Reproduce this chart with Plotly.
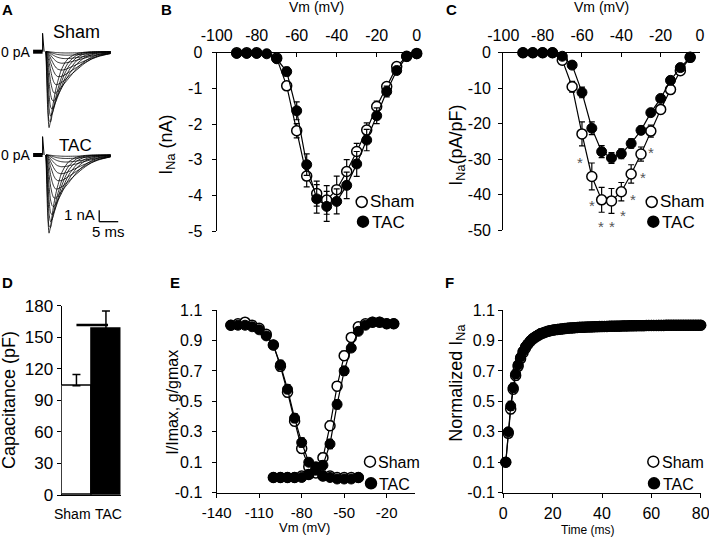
import plotly.graph_objects as go

W, H = 709, 537
FONT = "Liberation Sans, Arial, sans-serif"


def px(x):
    return x / W


def py(y):
    return 1 - y / H


# ---------------- Panel A : representative traces (ms, nA) ----------------
trace_t = [0, 0.4, 0.8, 1.2, 1.6, 2, 2.5, 3, 4, 5, 6, 8, 10, 12, 14, 17]
sham_traces = [
    [0, -4.6, -6.6, -6.0, -5.1, -4.3, -3.4, -2.7, -1.6, -0.95, -0.55, -0.18, -0.05, 0, 0, 0],
    [0, -3.6, -6.0, -6.1, -5.5, -4.9, -4.1, -3.4, -2.3, -1.45, -0.9, -0.32, -0.1, -0.03, 0, 0],
    [0, -2.5, -4.9, -5.6, -5.4, -5.0, -4.4, -3.8, -2.7, -1.85, -1.25, -0.52, -0.2, -0.07, -0.02, 0],
    [0, -1.6, -3.7, -4.8, -5.0, -4.8, -4.4, -4.0, -3.1, -2.3, -1.65, -0.8, -0.37, -0.16, -0.06, 0],
    [0, -1.0, -2.6, -3.7, -4.2, -4.3, -4.1, -3.85, -3.25, -2.6, -2.0, -1.1, -0.55, -0.26, -0.11, -0.02],
    [0, -0.55, -1.6, -2.6, -3.2, -3.55, -3.6, -3.45, -3.1, -2.7, -2.3, -1.5, -0.88, -0.48, -0.22, -0.06],
    [0, -0.3, -0.9, -1.6, -2.2, -2.6, -2.85, -2.85, -2.7, -2.45, -2.15, -1.6, -1.05, -0.63, -0.35, -0.12],
    [0, -0.15, -0.5, -0.95, -1.35, -1.7, -2.0, -2.15, -2.15, -2.0, -1.8, -1.38, -0.98, -0.64, -0.4, -0.16],
    [0, -0.08, -0.28, -0.55, -0.82, -1.08, -1.33, -1.5, -1.6, -1.55, -1.42, -1.12, -0.82, -0.55, -0.35, -0.16],
    [0, -0.04, -0.14, -0.3, -0.47, -0.62, -0.78, -0.9, -1.0, -0.98, -0.92, -0.75, -0.57, -0.4, -0.27, -0.13],
    [0, -0.02, -0.07, -0.15, -0.24, -0.32, -0.41, -0.48, -0.57, -0.6, -0.59, -0.52, -0.42, -0.32, -0.22, -0.11],
    [0, 0, -0.03, -0.07, -0.11, -0.15, -0.2, -0.24, -0.28, -0.3, -0.3, -0.27, -0.22, -0.17, -0.12, -0.07],
    [0, 0, -0.01, -0.02, -0.04, -0.05, -0.07, -0.08, -0.1, -0.11, -0.11, -0.1, -0.09, -0.07, -0.05, -0.03],
]
tac_traces = [
    [0, -4.8, -6.8, -6.2, -5.3, -4.4, -3.5, -2.8, -1.65, -1.0, -0.58, -0.19, -0.05, 0, 0, 0],
    [0, -3.7, -6.2, -6.3, -5.7, -5.0, -4.2, -3.5, -2.35, -1.5, -0.95, -0.34, -0.11, -0.03, 0, 0],
    [0, -2.6, -5.1, -5.8, -5.6, -5.2, -4.6, -3.95, -2.8, -1.95, -1.3, -0.55, -0.21, -0.07, -0.02, 0],
    [0, -1.7, -3.9, -5.0, -5.2, -5.0, -4.6, -4.15, -3.2, -2.4, -1.72, -0.85, -0.4, -0.17, -0.06, 0],
    [0, -1.05, -2.7, -3.9, -4.4, -4.5, -4.3, -4.0, -3.4, -2.7, -2.1, -1.15, -0.58, -0.28, -0.12, -0.02],
    [0, -0.6, -1.7, -2.7, -3.35, -3.7, -3.75, -3.6, -3.2, -2.8, -2.4, -1.55, -0.92, -0.5, -0.23, -0.06],
    [0, -0.32, -0.95, -1.7, -2.3, -2.7, -2.95, -2.95, -2.8, -2.55, -2.25, -1.65, -1.1, -0.66, -0.37, -0.12],
    [0, -0.16, -0.52, -1.0, -1.4, -1.78, -2.08, -2.22, -2.22, -2.07, -1.86, -1.42, -1.0, -0.66, -0.41, -0.16],
    [0, -0.08, -0.29, -0.57, -0.85, -1.1, -1.36, -1.53, -1.63, -1.57, -1.44, -1.14, -0.83, -0.56, -0.36, -0.16],
    [0, -0.04, -0.15, -0.31, -0.48, -0.64, -0.8, -0.92, -1.02, -1.0, -0.94, -0.77, -0.58, -0.41, -0.28, -0.13],
    [0, -0.02, -0.07, -0.15, -0.25, -0.33, -0.42, -0.49, -0.58, -0.61, -0.6, -0.53, -0.43, -0.33, -0.22, -0.11],
    [0, 0, -0.03, -0.07, -0.11, -0.15, -0.2, -0.24, -0.28, -0.3, -0.3, -0.27, -0.22, -0.17, -0.12, -0.07],
    [0, 0, -0.01, -0.02, -0.04, -0.05, -0.07, -0.08, -0.1, -0.11, -0.11, -0.1, -0.09, -0.07, -0.05, -0.03],
]
hold_t = [-3.4, -0.9]
hold_i = [0, 0]
spike_t = [-0.9, -0.9, -0.5]
spike_i = [0, 1.6, 0]

# ---------------- Panel B : I-V (nA) ----------------
vm_b = [-90, -85, -80, -75, -70, -65, -60, -55, -50, -45, -40, -35, -30, -25, -20, -15, -10, -5, 0]
ina_sham = [0, 0, 0, 0.01, -0.15, -0.93, -2.19, -3.46, -3.95, -4.13, -3.84, -3.33, -2.77, -2.17, -1.51, -0.95, -0.39, -0.1, -0.02]
ina_sham_err = [0, 0, 0, 0, 0.03, 0.1, 0.2, 0.3, 0.35, 0.4, 0.38, 0.33, 0.23, 0.2, 0.15, 0.1, 0.06, 0.03, 0.01]
ina_tac = [-0.02, -0.02, -0.02, -0.03, -0.17, -0.53, -1.63, -3.14, -4.1, -4.31, -4.17, -3.72, -3.12, -2.45, -1.77, -1.09, -0.5, -0.11, -0.03]
ina_tac_err = [0, 0, 0, 0, 0.04, 0.12, 0.25, 0.3, 0.4, 0.42, 0.35, 0.37, 0.35, 0.3, 0.22, 0.15, 0.08, 0.03, 0.01]

# ---------------- Panel C : density (pA/pF) ----------------
vm_c = [-90, -85, -80, -75, -70, -65, -60, -55, -50, -45, -40, -35, -30, -25, -20, -15, -10, -5]
dens_sham = [0, 0, 0, 0, -2.1, -9.6, -22.9, -34.9, -41.5, -41.8, -39.2, -34.2, -28.6, -22.1, -16.0, -10.4, -5.1, -1.3]
dens_sham_err = [0, 0, 0, 0, 0.5, 1.5, 3.4, 3.8, 3.5, 3.5, 2.6, 2.6, 2.0, 1.7, 1.2, 1.0, 0.6, 0.3]
dens_tac = [0, 0, 0, 0, -1.0, -3.5, -11.2, -21.3, -27.9, -29.7, -28.5, -25.6, -21.9, -16.9, -12.9, -7.8, -4.2, -1.3]
dens_tac_err = [0, 0, 0, 0, 0.4, 0.6, 1.5, 1.8, 1.7, 1.5, 1.4, 1.3, 1.1, 0.9, 0.8, 0.6, 0.4, 0.2]
star_x = [-61.0, -55.1, -50.1, -44.9, -39.0, -34.2, -28.8, -25.1]
star_y = [-29.7, -42.0, -47.9, -47.9, -44.8, -40.4, -34.0, -26.9]

# ---------------- Panel D : capacitance ----------------
groups = ["Sham", "TAC"]
cap_mean = [104, 158]
cap_err = [10.5, 17]

# ---------------- Panel E : steady-state inactivation / activation ----------------
inact_v = [-130, -125, -120, -115, -110, -105, -100, -95, -90, -85, -80, -75, -70, -65, -60, -55, -50, -45, -40]
inact_sham = [1.00, 1.01, 1.02, 1.00, 0.98, 0.94, 0.87, 0.73, 0.56, 0.37, 0.19, 0.07, 0.03, 0.01, 0.01, 0.00, 0.00, 0.00, 0.00]
inact_tac = [1.00, 1.00, 1.00, 0.99, 0.97, 0.93, 0.87, 0.74, 0.58, 0.39, 0.23, 0.10, 0.05, 0.01, 0.00, -0.01, -0.01, -0.01, 0.00]
act_v = [-100, -95, -90, -85, -80, -75, -70, -65, -60, -55, -50, -45, -40, -35, -30, -25, -20, -15]
act_sham = [0.00, 0.00, 0.00, 0.00, 0.01, 0.02, 0.05, 0.13, 0.34, 0.60, 0.80, 0.92, 0.99, 1.01, 1.02, 1.02, 1.01, 1.01]
act_tac = [0.00, 0.00, 0.00, 0.00, 0.00, 0.02, 0.07, 0.08, 0.22, 0.48, 0.70, 0.85, 0.96, 1.00, 1.02, 1.02, 1.01, 1.01]
e_err = [0, 0, 0, 0, 0.01, 0.01, 0.02, 0.03, 0.03, 0.03, 0.03, 0.02, 0.02, 0.01, 0.01, 0, 0, 0, 0]

# ---------------- Panel F : recovery from inactivation ----------------
rec_t = [1, 2, 3, 4, 5, 6, 7, 8, 9, 10, 11, 12, 13, 14, 15, 16, 17, 18, 19, 20,
         21, 22, 23, 24, 25, 26, 27, 28, 29, 30, 31, 32, 33, 34, 35, 36, 37, 38, 39, 40,
         41, 42, 43, 44, 45, 46, 47, 48, 49, 50, 51, 52, 53, 54, 55, 56, 57, 58, 59, 60,
         61, 62, 63, 64, 65, 66, 67, 68, 69, 70, 71, 72, 73, 74, 75, 76, 77, 78, 79, 80]
rec_sham = [0.10, 0.29, 0.45, 0.58, 0.67, 0.73, 0.78, 0.82, 0.85, 0.875,
            0.895, 0.91, 0.922, 0.932, 0.942, 0.948, 0.954, 0.96, 0.964, 0.967,
            0.97, 0.972, 0.974, 0.976, 0.978, 0.98, 0.981, 0.982, 0.984, 0.985,
            0.986, 0.986, 0.987, 0.988, 0.989, 0.989, 0.99, 0.99, 0.991, 0.991,
            0.992, 0.992, 0.993, 0.993, 0.994, 0.994, 0.994, 0.995, 0.995, 0.995,
            0.996, 0.996, 0.996, 0.997, 0.997, 0.997, 0.997, 0.998, 0.998, 0.998,
            0.998, 0.999, 0.999, 0.999, 0.999, 1.0, 1.0, 1.0, 1.0, 1.0,
            1.0, 1.0, 1.0, 1.0, 1.0, 1.0, 1.0, 1.0, 1.0, 1.0]
rec_tac = [0.10, 0.30, 0.47, 0.59, 0.68, 0.74, 0.79, 0.83, 0.86, 0.88,
           0.90, 0.915, 0.925, 0.935, 0.945, 0.95, 0.955, 0.96, 0.965, 0.968,
           0.97, 0.973, 0.975, 0.977, 0.979, 0.98, 0.982, 0.983, 0.984, 0.985,
           0.986, 0.987, 0.988, 0.988, 0.989, 0.99, 0.99, 0.991, 0.991, 0.992,
           0.992, 0.993, 0.993, 0.994, 0.994, 0.995, 0.995, 0.995, 0.996, 0.996,
           0.996, 0.997, 0.997, 0.997, 0.998, 0.998, 0.998, 0.998, 0.999, 0.999,
           0.999, 0.999, 1.0, 1.0, 1.0, 1.0, 1.0, 1.0, 1.0, 1.0,
           1.0, 1.0, 1.0, 1.0, 1.0, 1.0, 1.0, 1.0, 1.0, 1.0]
rec_err_early = [0.01, 0.02, 0.03, 0.03, 0.03, 0.02, 0.02, 0.02, 0.02, 0.01]

fig = go.Figure()

OPEN = dict(symbol="circle", size=10, color="white", line=dict(color="black", width=1.5))
FILLED = dict(symbol="circle", size=10, color="black", line=dict(color="black", width=1))
LINE = dict(color="black", width=1.2)


def err(arr):
    return dict(type="data", array=arr, visible=True, color="black", thickness=1.2, width=3)


# Panel A traces
for axes, traces in (("", sham_traces), ("2", tac_traces)):
    xa, ya = "x" + axes, "y" + axes
    for tr in traces:
        fig.add_trace(go.Scatter(x=trace_t, y=tr, mode="lines", line=dict(color="black", width=0.8, shape="spline", smoothing=0.6),
                                 xaxis=xa, yaxis=ya, showlegend=False, hoverinfo="skip"))
    fig.add_trace(go.Scatter(x=hold_t, y=hold_i, mode="lines", line=dict(color="black", width=4),
                             xaxis=xa, yaxis=ya, showlegend=False))
    fig.add_trace(go.Scatter(x=spike_t, y=spike_i, mode="lines", line=dict(color="black", width=1),
                             xaxis=xa, yaxis=ya, showlegend=False))

# Panel B
fig.add_trace(go.Scatter(x=vm_b, y=ina_sham, mode="lines+markers", marker=OPEN, line=LINE, error_y=err(ina_sham_err),
                         xaxis="x3", yaxis="y3", showlegend=False, cliponaxis=False))
fig.add_trace(go.Scatter(x=vm_b, y=ina_tac, mode="lines+markers", marker=FILLED, line=LINE, error_y=err(ina_tac_err),
                         xaxis="x3", yaxis="y3", showlegend=False, cliponaxis=False))
# Panel C
fig.add_trace(go.Scatter(x=vm_c, y=dens_sham, mode="lines+markers", marker=OPEN, line=LINE, error_y=err(dens_sham_err),
                         xaxis="x4", yaxis="y4", showlegend=False, cliponaxis=False))
fig.add_trace(go.Scatter(x=vm_c, y=dens_tac, mode="lines+markers", marker=FILLED, line=LINE, error_y=err(dens_tac_err),
                         xaxis="x4", yaxis="y4", showlegend=False, cliponaxis=False))
# Panel D
fig.add_trace(go.Bar(x=groups, y=cap_mean, marker=dict(color=["white", "black"], line=dict(color="black", width=1.5)),
                     error_y=dict(type="data", array=cap_err, arrayminus=[0, 0], symmetric=False, color="black", thickness=1.5, width=4),
                     xaxis="x5", yaxis="y5", showlegend=False, width=1.0))
# Panel E
for xv, ys, mk in ((inact_v, inact_sham, OPEN), (act_v, act_sham, OPEN), (inact_v, inact_tac, FILLED), (act_v, act_tac, FILLED)):
    fig.add_trace(go.Scatter(x=xv, y=ys, mode="lines+markers", marker=mk, line=LINE, error_y=err(e_err[:len(ys)]),
                             xaxis="x6", yaxis="y6", showlegend=False, cliponaxis=False))
# Panel F
rec_err = rec_err_early + [0] * (len(rec_t) - len(rec_err_early))
fig.add_trace(go.Scatter(x=rec_t, y=rec_sham, mode="lines+markers", marker=OPEN, line=LINE, error_y=err(rec_err),
                         xaxis="x7", yaxis="y7", showlegend=False, cliponaxis=False))
fig.add_trace(go.Scatter(x=rec_t, y=rec_tac, mode="lines+markers", marker=FILLED, line=LINE, error_y=err(rec_err),
                         xaxis="x7", yaxis="y7", showlegend=False, cliponaxis=False))

AX = dict(showgrid=False, zeroline=False, showline=True, linecolor="black", linewidth=1.3,
          ticks="outside", ticklen=4, tickwidth=1.3, tickcolor="black", layer="below traces",
          automargin=False, tickangle=0, ticklabeloverflow="allow",
          tickfont=dict(family=FONT, size=16, color="black"))
HID = dict(visible=False, showgrid=False, zeroline=False, automargin=False)

b_xt = [-100, -80, -60, -40, -20, 0]
b_yt = [0, -1, -2, -3, -4, -5]
c_yt = [0, -10, -20, -30, -40, -50]
d_yt = [0, 30, 60, 90, 120, 150, 180]
e_xt = [-140, -110, -80, -50, -20]
e_yt = [-0.1, 0.1, 0.3, 0.5, 0.7, 0.9, 1.1]
f_xt = [0, 20, 40, 60, 80]


def lab(vals, fmt="{}"):
    return [fmt.format(v) for v in vals]


fig.update_layout(
    width=W, height=H, margin=dict(l=0, r=0, t=0, b=0, autoexpand=False),
    paper_bgcolor="white", plot_bgcolor="rgba(0,0,0,0)",
    font=dict(family=FONT, color="black"),
    bargap=0,
    xaxis=dict(HID, domain=[px(30), px(120)], range=[-4.21, 19.47], anchor="y"),
    yaxis=dict(HID, domain=[py(135), py(25)], range=[-7.24, 2.32], anchor="x"),
    xaxis2=dict(HID, domain=[px(30), px(120)], range=[-4.21, 19.47], anchor="y2"),
    yaxis2=dict(HID, domain=[py(238), py(128)], range=[-7.22, 2.35], anchor="x2"),
    xaxis3=dict(AX, domain=[px(216.7), px(416.7)], range=[-100, 0], anchor="y3", side="top", ticks="inside",
                tickvals=b_xt, ticktext=lab(b_xt), ticklabelstandoff=4),
    yaxis3=dict(AX, domain=[py(231), py(52.7)], range=[-5, 0], anchor="x3",
                tickvals=b_yt, ticktext=lab(b_yt), ticklabelstandoff=6),
    xaxis4=dict(AX, domain=[px(503.3), px(700)], range=[-100, 0], anchor="y4", side="top", ticks="inside",
                tickvals=b_xt, ticktext=lab(b_xt), ticklabelstandoff=4),
    yaxis4=dict(AX, domain=[py(230), py(52.7)], range=[-50, 0], anchor="x4",
                tickvals=c_yt, ticktext=lab(c_yt), ticklabelstandoff=4),
    xaxis5=dict(AX, domain=[px(61.7), px(120.7)], range=[-0.5, 1.5], anchor="y5", ticks="",
                showticklabels=False),
    yaxis5=dict(AX, domain=[py(495), py(305.7)], range=[0, 180], anchor="x5",
                tickvals=d_yt, ticktext=lab(d_yt), tickfont=dict(family=FONT, size=17, color="black")),
    xaxis6=dict(AX, domain=[px(216.7), px(415)], range=[-140, 0], anchor="y6",
                tickvals=e_xt, ticktext=lab(e_xt), ticklabelstandoff=2, tickfont=dict(family=FONT, size=15, color="black")),
    yaxis6=dict(AX, domain=[py(492.7), py(310)], range=[-0.1, 1.1], anchor="x6",
                tickvals=e_yt, ticktext=lab(e_yt, "{:.1f}"), ticklabelstandoff=6),
    xaxis7=dict(AX, domain=[px(503.3), px(700.7)], range=[0, 80], anchor="y7",
                tickvals=f_xt, ticktext=lab(f_xt), ticklabelstandoff=2),
    yaxis7=dict(AX, domain=[py(492.7), py(310)], range=[-0.1, 1.1], anchor="x7",
                tickvals=e_yt, ticktext=lab(e_yt, "{:.1f}")),
)

ann = []


def text(x, y, s, size, xanchor="center", bold=False, angle=0, color="black"):
    if bold:
        s = "<b>" + s + "</b>"
    ann.append(dict(x=px(x), y=py(y), xref="paper", yref="paper", text=s, showarrow=False,
                    xanchor=xanchor, yanchor="middle", textangle=angle,
                    font=dict(family=FONT, size=size, color=color)))


# panel letters
for (lx, ly, s) in ((7, 10, "A"), (166, 10, "B"), (451, 10, "C"), (7, 282, "D"), (175, 282, "E"), (449, 282, "F")):
    text(lx, ly, s, 15, bold=True)

# Panel A labels
text(76.7, 31.7, "Sham", 18)
text(75, 145, "TAC", 17)
text(32, 52, "0 pA", 14, xanchor="right")
text(32, 155, "0 pA", 14, xanchor="right")
text(97, 214, "1 nA", 15, xanchor="right")
text(108, 231, "5 ms", 15)

# Panel D group labels
text(72.5, 514, groups[0], 14)
text(108, 514, groups[1], 14)

# axis titles
text(316.7, 7, "Vm (mV)", 14)
text(601.7, 7, "Vm (mV)", 14)
text(166.7, 145, "I<sub>Na</sub> (nA)", 18, angle=-90)
text(456.7, 145, "I<sub>Na</sub>(pA/pF)", 18, angle=-90)
text(9, 400, "Capacitance (pF)", 18, angle=-90)
text(171.7, 402, "I/Imax, g/gmax", 16, angle=-90)
text(456.7, 383, "Normalized I<sub>Na</sub>", 18, angle=-90)
text(304, 527, "Vm (mV)", 13)
text(587.5, 529.5, "Time (ms)", 12)

# legends
shapes = []
for (cx, cy, fill) in ((361.7, 202, "white"), (363, 221.7, "black"),
                       (651.7, 202, "white"), (653.3, 221.7, "black"),
                       (370, 461.7, "white"), (371, 483.3, "black"),
                       (653.3, 461.7, "white"), (654, 483.3, "black")):
    r = 5.5
    shapes.append(dict(type="circle", xref="paper", yref="paper", x0=px(cx - r), x1=px(cx + r),
                       y0=py(cy + r), y1=py(cy - r), fillcolor=fill, line=dict(color="black", width=1.5)))
for (lx, ly, s, sz) in ((368, 202, "Sham", 17), (369.5, 222, "TAC", 17),
                        (658, 202, "Sham", 17), (659.5, 222, "TAC", 17),
                        (376, 462, "Sham", 16), (377, 484, "TAC", 16),
                        (659.5, 462, "Sham", 16), (660.5, 484, "TAC", 16)):
    text(lx, ly, s, sz, xanchor="left")

# significance asterisks (panel C)
for sx, sy in zip(star_x, star_y):
    ann.append(dict(x=sx, y=sy, xref="x4", yref="y4", text="*", showarrow=False, yshift=-4,
                    font=dict(family=FONT, size=15, color="#555555")))

# Panel D significance bracket
shapes.append(dict(type="line", xref="x5", yref="y5", x0=0, x1=1.07, y0=161.6, y1=161.6,
                   line=dict(color="black", width=2.5)))
ann.append(dict(x=0.52, y=188.5, xref="x5", yref="y5", text="p<0.05", showarrow=False,
                font=dict(family=FONT, size=12, color="black")))

# Panel A scale bar (1 nA, 5 ms)
sb_t, sb_i = 14.0, -5.8
shapes.append(dict(type="line", xref="x2", yref="y2", x0=sb_t, x1=sb_t, y0=sb_i, y1=sb_i + 1,
                   line=dict(color="black", width=1.3)))
shapes.append(dict(type="line", xref="x2", yref="y2", x0=sb_t, x1=sb_t + 5, y0=sb_i, y1=sb_i,
                   line=dict(color="black", width=1.3)))

fig.update_layout(annotations=ann, shapes=shapes)
fig.write_html("out.html", config={"displayModeBar": False},
               post_script="document.body.style.margin='0';document.body.style.padding='0';")
